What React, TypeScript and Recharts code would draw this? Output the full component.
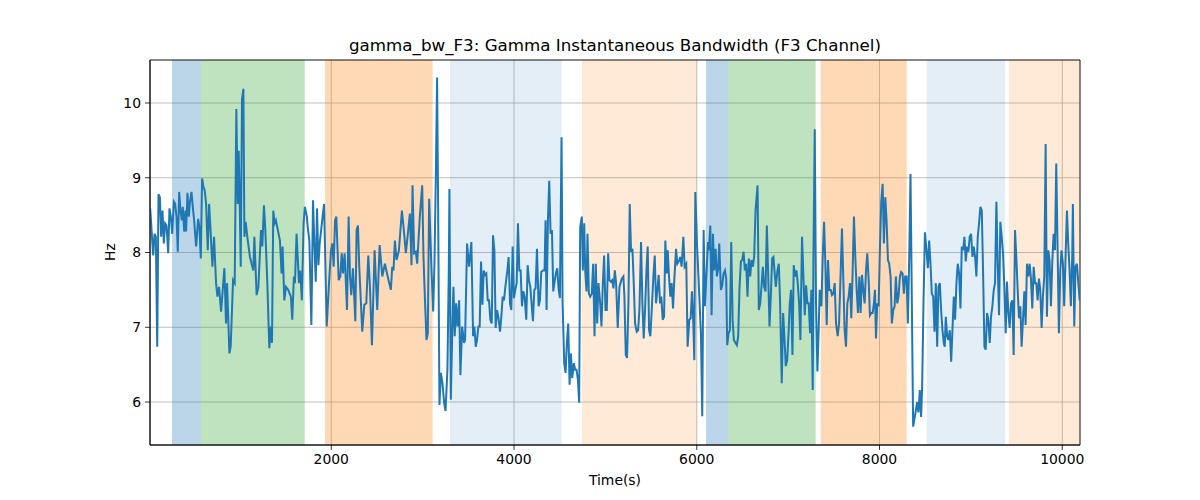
import React from 'react';
import { LineChart, Line, XAxis, YAxis, CartesianGrid, ReferenceArea } from 'recharts';

// ---- data (time in s, bandwidth in Hz) ----
const times1 = [18,51,66,80,95,109,124,138,153,167,182,197,215,229,244,259,277,291,306,320,335,350,364,375,390,404,411,426,441,451,470,484,499,521,543,557,572,586,601,615,630,648,663,677,699,717,739,754,772,794,830,848,859,885,899,925,943,961,976,987,998,1009,1023,1038,1049,1063,1081,1110,1147,1158,1183,1202,1231,1245,1263,1278,1300,1322,1336,1351,1365,1380,1394,1438,1456,1467,1486,1504,1529,1558,1573,1591,1602,1620,1646,1660,1678,1697,1711,1733];
const values1 = [8.59,7.96,8.25,8.21,6.74,8.78,8.74,8.21,8.56,8.12,8.39,8.36,7.99,8.59,8.48,8.25,8.68,8.65,8.48,8.01,8.81,8.56,8.43,8.61,8.28,8.56,8.28,8.80,8.48,8.65,8.81,8.61,8.43,8.08,8.45,8.34,7.92,8.99,8.88,8.83,8.65,8.03,8.65,8.34,7.81,8.21,7.59,7.41,7.54,7.21,7.79,7.05,7.59,6.65,6.74,7.63,7.59,9.92,8.65,9.36,8.65,7.81,10.05,10.19,8.21,8.41,8.21,7.94,7.76,8.21,7.43,7.54,8.30,8.08,8.63,8.30,7.59,6.72,7.01,6.79,8.56,8.39,8.43,8.16,7.72,8.08,7.36,7.54,7.50,7.41,7.10,7.68,7.59,8.25,7.59,7.76,7.36,8.39,8.61,8.48];

const times2 = [1742,1760,1782,1800,1815,1830,1844,1859,1873,1902,1921,1950,1975,1997,2012,2026,2041,2055,2081,2099,2114,2128,2146,2172,2190,2205,2219,2237,2263,2277,2292,2306,2339,2361,2383,2405,2423,2445,2474,2503,2529,2558,2587,2623,2652,2667,2681,2696,2714,2740,2773,2794,2816,2842,2860,2878,2889,2907,2925,2940,2969,2995,3009,3024,3042,3056,3071,3097,3115,3129,3144,3158,3169,3184,3199,3217,3235,3250,3271,3286,3293,3308,3326,3337,3351,3366,3381,3399,3413,3432,3453];
const values2 = [8.34,8.16,7.03,8.70,8.12,7.61,8.59,7.83,8.12,8.45,8.65,7.01,7.59,8.03,8.12,7.81,8.43,8.48,7.63,7.68,7.99,7.72,7.99,7.23,8.48,7.68,7.43,7.79,7.08,8.30,8.36,7.81,6.94,7.30,7.32,7.96,7.54,6.76,8.03,7.23,8.10,7.68,7.85,7.65,7.50,7.81,7.76,8.16,7.90,8.03,8.56,8.30,7.99,8.30,8.52,7.83,8.90,7.99,8.01,7.85,8.48,8.90,7.94,7.41,6.83,6.92,8.72,7.76,7.21,7.85,9.01,10.34,8.65,5.96,6.39,6.25,5.99,5.88,6.43,7.76,8.85,6.03,7.05,7.54,6.88,7.32,7.01,7.36,6.36,7.01,6.79];

const times3 = [3464,3486,3508,3533,3552,3566,3581,3595,3610,3624,3639,3654,3668,3683,3697,3712,3726,3741,3756,3770,3785,3799,3814,3828,3847,3861,3876,3890,3905,3927,3941,3956,3970,3985,3999,4014,4029,4043,4058,4072,4087,4101,4116,4134,4149,4163,4178,4192,4207,4222,4236,4251,4269,4283,4298,4316,4334,4345,4356,4371,4385,4400,4415,4429,4444,4458,4473,4487,4502,4520,4531,4549,4564,4578,4593,4608,4622,4637,4655,4669,4684,4699,4713,4724,4742,4753,4768,4779,4793,4804,4819,4833,4851,4866,4881,4895,4910,4924,4943,4957,4972,4986,5001,5015,5030,5044,5059,5074,5088,5103,5117,5135,5154];
const values3 = [6.83,8.12,7.81,8.14,6.88,7.01,6.74,6.83,7.01,7.01,7.88,7.30,7.76,7.70,7.72,7.36,7.36,7.10,7.05,8.23,8.03,6.99,7.23,7.14,6.94,7.14,7.41,7.36,7.54,7.76,7.94,7.32,7.23,8.08,7.39,7.50,7.59,8.39,7.76,7.76,7.28,7.48,7.41,7.10,7.83,7.63,7.54,7.32,7.08,7.50,7.52,8.05,7.28,7.36,7.74,7.76,7.76,8.43,7.23,8.43,8.96,8.25,8.30,7.48,7.61,7.72,7.79,7.52,7.39,9.54,7.36,6.52,6.39,6.79,7.05,6.23,6.65,6.32,6.52,6.43,6.43,6.30,5.99,8.34,8.48,7.76,8.39,7.76,7.48,8.25,7.45,7.41,7.45,7.85,6.88,7.85,7.05,7.59,7.32,7.01,7.59,7.96,7.23,7.23,7.99,7.63,7.61,7.63,7.52,7.76,7.59,6.99,7.54];

const times4 = [5179,5197,5208,5223,5237,5252,5266,5281,5296,5310,5325,5343,5358,5372,5390,5405,5419,5434,5449,5463,5478,5492,5507,5525,5540,5554,5569,5583,5598,5612,5627,5642,5656,5671,5682,5696,5711,5725,5740,5754,5773,5787,5802,5820,5834,5853,5867,5885,5900,5918,5933,5947,5962,5973,5984,6002,6017,6031,6046,6060,6075,6089,6108,6122,6133,6148,6162,6177,6191,6206,6220,6235,6246,6264,6279,6293,6308,6322,6333,6348,6362,6377,6392,6406,6424,6439,6453,6468,6483,6497,6512,6526,6541,6555,6570,6585,6599,6614,6628,6643,6665,6679,6694,6708,6723,6737,6752,6767,6781,6796,6810,6825,6839];
const values4 = [7.65,7.68,7.41,6.63,6.59,7.32,8.65,8.01,8.05,7.59,7.05,6.94,6.96,7.23,8.14,7.32,6.85,7.23,7.76,8.08,6.96,6.88,7.23,7.68,7.96,7.32,7.50,7.70,7.32,7.41,7.10,7.14,8.16,7.72,8.03,7.68,7.41,7.59,7.25,7.63,8.05,7.85,7.88,7.94,7.81,8.21,7.81,7.85,6.74,7.10,7.12,7.48,7.05,6.56,8.81,8.12,7.72,7.32,6.88,5.81,8.30,7.28,7.76,8.14,8.03,8.36,7.16,8.25,7.76,8.05,7.68,7.79,8.12,7.50,7.56,7.72,7.76,7.65,6.76,6.92,6.96,8.14,7.10,6.83,6.79,6.76,6.88,7.54,7.88,7.90,8.01,7.76,7.85,7.41,7.92,7.68,7.90,7.81,7.94,8.56,8.90,7.23,7.32,7.54,7.81,7.54,7.48,8.36,7.72,7.01,7.41,7.92,7.94];

const times5 = [6850,6865,6883,6898,6912,6930,6945,6959,6974,6989,7003,7018,7032,7047,7061,7076,7091,7105,7120,7134,7152,7167,7182,7196,7211,7225,7240,7254,7269,7276,7291,7305,7320,7334,7345,7364,7378,7393,7407,7422,7436,7451,7466,7480,7495,7509,7524,7542,7557,7571,7589,7604,7618,7633,7648,7662,7677,7691,7706,7720,7735,7750,7764,7779,7793,7808,7822,7837,7852,7866,7881,7895,7910,7924,7939,7950,7961,7975,7990,8004,8019,8034,8048,8063,8077,8092,8106,8121,8135,8150,8165,8179,8194,8208,8223,8237,8252,8267,8281,8296,8310,8325,8339];
const values5 = [7.76,7.54,7.76,7.85,7.32,6.25,7.19,6.88,6.48,6.56,6.88,7.32,7.50,6.63,7.83,7.68,7.76,7.59,7.32,6.83,8.21,7.68,7.16,7.56,7.32,7.32,6.92,7.50,6.16,7.85,9.65,7.32,6.41,6.96,7.50,7.28,7.94,8.41,7.85,7.03,7.90,7.50,7.50,7.43,7.45,7.59,7.05,6.88,7.05,7.59,8.32,7.63,6.96,6.74,7.32,7.41,7.59,7.12,7.76,8.48,7.94,7.50,7.19,7.68,7.19,7.70,7.50,7.32,7.76,7.99,7.63,7.16,7.19,7.19,7.32,7.50,6.85,7.32,7.28,8.03,8.68,8.92,8.12,8.74,8.43,7.90,7.85,7.68,7.05,7.23,7.28,7.68,7.32,7.41,7.68,7.74,7.72,7.45,7.68,7.68,7.05,7.94,9.05];

const times6 = [8368,8383,8397,8412,8426,8441,8455,8466,8481,8497];
const values6 = [5.67,5.78,5.88,6.00,5.86,6.16,5.80,6.18,7.32,8.27];

const times7 = [8514,8529,8543,8558,8572,8587,8602,8616,8631,8645,8660,8674,8689,8703,8714,8725,8740,8754,8769,8784,8798,8813,8827,8842,8856,8871,8886,8900,8915,8929,8944,8958,8973,8987,9002,9017,9031,9046,9060,9075,9089,9104,9119,9133,9148,9162,9177,9191,9206,9220,9235,9250,9264,9279,9293,9308,9322,9337,9352,9366,9381,9395,9410,9424,9439,9454,9468,9483,9497,9512,9526,9541,9555,9570,9585,9599,9614,9628,9643,9657,9672,9687,9701,9716,9730,9745,9759,9774,9788,9803,9818,9832,9847,9861,9876,9890,9905,9920,9934,9949,9963,9978,9992,10007,10021,10036,10051,10065,10080,10094,10109,10116,10131,10145,10160,10190];
const values7 = [8.03,7.79,8.16,7.85,7.45,7.41,6.94,7.59,6.74,7.54,7.59,7.23,6.96,6.79,6.74,7.14,6.88,6.83,6.96,6.54,6.96,7.41,7.10,7.59,7.85,7.72,7.25,8.08,8.03,8.21,7.88,8.08,8.01,8.21,8.25,7.94,8.08,7.94,7.68,8.21,8.39,8.61,8.56,7.76,6.74,6.70,7.19,7.10,6.79,7.14,7.28,7.50,7.59,8.68,7.85,7.16,8.41,8.21,7.99,7.54,6.92,7.61,7.19,6.99,7.32,7.36,6.63,8.30,7.94,7.50,7.12,7.28,6.74,7.10,7.48,7.03,7.85,7.68,7.85,7.65,7.25,7.81,7.59,7.59,7.36,7.65,7.50,6.99,7.41,7.68,9.45,7.14,8.03,7.90,7.28,7.85,8.25,8.03,9.19,8.03,6.92,7.76,8.03,7.85,7.28,7.94,8.56,8.12,7.76,7.28,7.94,8.65,7.01,7.81,7.85,7.36];

// shaded phases
const bandStarts = [257, 577, 1931, 3299, 4744, 6101, 6345, 7356, 8516, 9417];
const bandEnds = [577, 1709, 3109, 4521, 5999, 6345, 7301, 8297, 9373, 10194];
const bandColors = ['#1f77b4', '#2ca02c', '#ff7f0e', '#1f77b4', '#ff7f0e', '#1f77b4', '#2ca02c', '#ff7f0e', '#1f77b4', '#ff7f0e'];
const bandOpacities = [0.3, 0.3, 0.3, 0.12, 0.16, 0.3, 0.3, 0.3, 0.12, 0.16];

const xTicks = [2000, 4000, 6000, 8000, 10000];
const yTicks = [6, 7, 8, 9, 10];
const xDomain: [number, number] = [16, 10194];
const yDomain: [number, number] = [5.425, 10.575];

const allTimes = [times1, times2, times3, times4, times5, times6, times7];
const allValues = [values1, values2, values3, values4, values5, values6, values7];

const data: { t: number; v: number }[] = [];
allTimes.forEach((ts, i) => {
  const vs = allValues[i];
  const n = Math.min(ts.length, vs.length);
  for (let k = 0; k < n; k++) data.push({ t: ts[k], v: vs[k] });
});

const FONT = '"DejaVu Sans", sans-serif';

export default function App() {
  return (
    <div style={{ position: 'absolute', left: 0, top: 0, width: 1200, height: 500, background: '#fff', fontFamily: FONT }}>
      <LineChart
        width={1200}
        height={500}
        data={data}
        margin={{ top: 60, right: 120, bottom: 25, left: 0 }}
      >
        <CartesianGrid stroke="#b0b0b0" strokeWidth={0.8} />
        {bandStarts.map((s, i) => (
          <ReferenceArea
            key={i}
            x1={s}
            x2={bandEnds[i]}
            y1={yDomain[0]}
            y2={yDomain[1]}
            fill={bandColors[i]}
            fillOpacity={bandOpacities[i]}
            stroke="none"
            ifOverflow="hidden"
          />
        ))}
        <XAxis
          dataKey="t"
          type="number"
          domain={xDomain}
          ticks={xTicks}
          allowDataOverflow
          height={30}
          tickSize={5}
          tickMargin={4}
          stroke="#000"
          tick={{ fill: '#000', fontSize: 13.9, fontFamily: FONT }}
          axisLine={{ stroke: '#000', strokeWidth: 0.8 }}
          tickLine={{ stroke: '#000', strokeWidth: 0.8 }}
        />
        <YAxis
          type="number"
          domain={yDomain}
          ticks={yTicks}
          allowDataOverflow
          width={150}
          tickSize={5}
          tickMargin={4}
          stroke="#000"
          tick={{ fill: '#000', fontSize: 13.9, fontFamily: FONT }}
          axisLine={{ stroke: '#000', strokeWidth: 0.8 }}
          tickLine={{ stroke: '#000', strokeWidth: 0.8 }}
        />
        <Line
          type="linear"
          dataKey="v"
          stroke="#1f77b4"
          strokeWidth={2}
          dot={false}
          activeDot={false}
          isAnimationActive={false}
        />
        <ReferenceArea
          x1={xDomain[0]}
          x2={xDomain[1]}
          y1={yDomain[0]}
          y2={yDomain[1]}
          fill="none"
          stroke="#000"
          strokeWidth={0.8}
          ifOverflow="visible"
        />
      </LineChart>
      <div style={{ position: 'absolute', left: 150, width: 930, top: 35, textAlign: 'center', fontSize: 16.7, color: '#000', lineHeight: '20px' }}>
        gamma_bw_F3: Gamma Instantaneous Bandwidth (F3 Channel)
      </div>
      <div style={{ position: 'absolute', left: 150, width: 930, top: 471, textAlign: 'center', fontSize: 13.9, color: '#000', lineHeight: '18px' }}>
        Time(s)
      </div>
      <div style={{ position: 'absolute', left: 110 - 50, width: 100, top: 252 - 9, textAlign: 'center', fontSize: 13.9, color: '#000', lineHeight: '18px', transform: 'rotate(-90deg)' }}>
        Hz
      </div>
    </div>
  );
}
